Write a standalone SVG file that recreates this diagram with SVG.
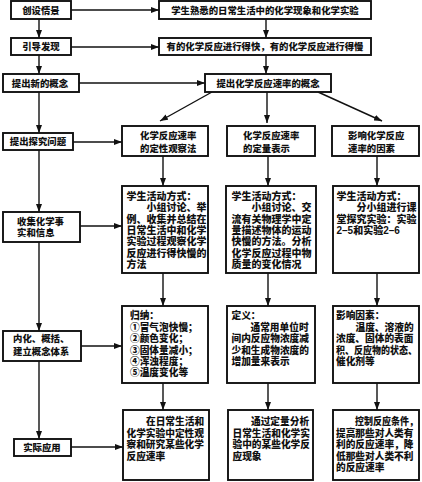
<svg xmlns="http://www.w3.org/2000/svg" width="422" height="482" viewBox="0 0 422 482">
<defs>
<style>
.box{fill:#fff;stroke:#111;stroke-width:1.9}
.t{font-family:"Liberation Sans","Noto Sans CJK SC","Noto Sans CJK JP",sans-serif;font-weight:900;fill:#111}
.s{font-size:9.4px}
.m{text-anchor:middle}
.b2{font-size:10px}
.b3{font-size:9.7px}
.c{stroke:#111;stroke-width:1.4;fill:none;marker-end:url(#ah)}
</style>
<marker id="ah" markerUnits="userSpaceOnUse" markerWidth="8" markerHeight="6" refX="8" refY="3" orient="auto">
<path d="M0,0 L8,3 L0,6 z" fill="#111"/>
</marker>
</defs>
<rect width="422" height="482" fill="#fff"/>

<g id="connectors">
<line class="c" x1="39" y1="19" x2="39" y2="38"/>
<line class="c" x1="39" y1="55" x2="39" y2="74"/>
<line class="c" x1="39" y1="92" x2="39" y2="133"/>
<line class="c" x1="39" y1="150" x2="39" y2="212"/>
<line class="c" x1="39" y1="242" x2="39" y2="331"/>
<line class="c" x1="39" y1="361" x2="39" y2="439"/>
<line class="c" x1="71" y1="10" x2="159" y2="10"/>
<line class="c" x1="71" y1="47" x2="159" y2="47"/>
<line class="c" x1="79" y1="83" x2="205" y2="83"/>
<line class="c" x1="73" y1="142" x2="122" y2="142"/>
<line class="c" x1="80" y1="226" x2="122" y2="226"/>
<line class="c" x1="81" y1="346" x2="122" y2="346"/>
<line class="c" x1="71" y1="447" x2="123" y2="447"/>
<line class="c" x1="266" y1="19" x2="266" y2="38"/>
<line class="c" x1="266" y1="55" x2="266" y2="74"/>
<line class="c" x1="212" y1="92" x2="160" y2="121"/>
<line class="c" x1="267" y1="92" x2="267" y2="123"/>
<line class="c" x1="318" y1="92" x2="382" y2="121"/>
<line class="c" x1="163" y1="156" x2="163" y2="186"/>
<line class="c" x1="268" y1="156" x2="268" y2="186"/>
<line class="c" x1="377" y1="156" x2="377" y2="186"/>
<line class="c" x1="163" y1="273" x2="163" y2="306"/>
<line class="c" x1="268" y1="273" x2="268" y2="306"/>
<line class="c" x1="377" y1="273" x2="377" y2="306"/>
<line class="c" x1="163" y1="383" x2="163" y2="410"/>
<line class="c" x1="268" y1="383" x2="268" y2="410"/>
<line class="c" x1="377" y1="383" x2="377" y2="410"/>
</g>

<g id="n-chuangshe"><rect class="box" x="11" y="1" width="60" height="18"/><text class="t s m" x="41" y="13.5">创设情景</text></g>
<g id="n-yindao"><rect class="box" x="11" y="38" width="60" height="17"/><text class="t s m" x="41" y="50.3">引导发现</text></g>
<g id="n-tichu"><rect class="box" x="3" y="74" width="76" height="18"/><text class="t s m" x="40" y="86.6">提出新的概念</text></g>
<g id="n-tanjiu"><rect class="box" x="3" y="133" width="70" height="17"/><text class="t s m" x="38" y="145.1">提出探究问题</text></g>
<g id="n-shouji"><rect class="box" x="3" y="212" width="77" height="30"/><text class="t s" x="17" y="224.6">收集化学事<tspan x="17" dy="11.2">实和信息</tspan></text></g>
<g id="n-neihua"><rect class="box" x="3" y="331" width="78" height="30"/><text class="t s" x="13" y="342.2">内化、概括、<tspan x="13" dy="13">建立概念体系</tspan></text></g>
<g id="n-shiji"><rect class="box" x="14" y="439" width="57" height="17"/><text class="t s m" x="42" y="451.1">实际应用</text></g>

<g id="n-t1"><rect class="box" x="159" y="1" width="212" height="18"/><text class="t s m" x="265" y="13.5">学生熟悉的日常生活中的化学现象和化学实验</text></g>
<g id="n-t2"><rect class="box" x="159" y="38" width="212" height="17"/><text class="t s m" x="265" y="50.3">有的化学反应进行得快，有的化学反应进行得慢</text></g>
<g id="n-t3"><rect class="box" x="205" y="74" width="126" height="18"/><text class="t s m" x="268" y="86.6">提出化学反应速率的概念</text></g>

<g id="n-r1a"><rect class="box" x="122" y="126" width="86" height="30"/><text class="t s" x="140" y="138.6">化学反应速率<tspan x="140" dy="13">的定性观察法</tspan></text></g>
<g id="n-r1b"><rect class="box" x="227" y="126" width="88" height="30"/><text class="t s" x="243" y="138.6">化学反应速率<tspan x="243" dy="13">的定量表示</tspan></text></g>
<g id="n-r1c"><rect class="box" x="332" y="126" width="87" height="30"/><text class="t s" x="348" y="138.6">影响化学反应<tspan x="348" dy="13">速率的因素</tspan></text></g>

<g id="n-r2a"><rect class="box" x="122" y="186" width="86" height="87"/>
<text class="t b2" x="126.5" y="199.8">学生活动方式：<tspan x="146.5" dy="11.4">小组讨论、举</tspan><tspan x="126.5" dy="11.4">例、收集并总结在</tspan><tspan x="126.5" dy="11.4">日常生活中和化学</tspan><tspan x="126.5" dy="11.4">实验过程观察化学</tspan><tspan x="126.5" dy="11.4">反应进行得快慢的</tspan><tspan x="126.5" dy="11.4">方法</tspan></text>
</g>
<g id="n-r2b"><rect class="box" x="226" y="186" width="90" height="87"/>
<text class="t b2" x="231.5" y="199.8">学生活动方式：<tspan x="251.5" dy="11.4">小组讨论、交</tspan><tspan x="231.5" dy="11.4">流有关物理学中定</tspan><tspan x="231.5" dy="11.4">量描述物体的运动</tspan><tspan x="231.5" dy="11.4">快慢的方法。分析</tspan><tspan x="231.5" dy="11.4">化学反应过程中物</tspan><tspan x="231.5" dy="11.4">质量的变化情况</tspan></text>
</g>
<g id="n-r2c"><rect class="box" x="333" y="186" width="86" height="87"/>
<text class="t b2" x="336.5" y="199.8">学生活动方式：<tspan x="356.5" dy="11.4">分小组进行课</tspan><tspan x="336.5" dy="11.4">堂探究实验：实验</tspan><tspan x="336.5" dy="11.4">2–5和实验2–6</tspan></text>
</g>

<g id="n-r3a"><rect class="box" x="122" y="306" width="86" height="77"/>
<text class="t b3" x="130" y="319.4">归纳：<tspan x="130" dy="11.4">①冒气泡快慢；</tspan><tspan x="130" dy="11.4">②颜色变化；</tspan><tspan x="130" dy="11.4">③固体量减小；</tspan><tspan x="130" dy="11.4">④浑浊程度；</tspan><tspan x="130" dy="11.4">⑤温度变化等</tspan></text>
</g>
<g id="n-r3b"><rect class="box" x="227" y="306" width="88" height="77"/>
<text class="t b3" x="231.5" y="319.4">定义：<tspan x="250.5" dy="11.4">通常用单位时</tspan><tspan x="231.5" dy="11.4">间内反应物浓度减</tspan><tspan x="231.5" dy="11.4">少和生成物浓度的</tspan><tspan x="231.5" dy="11.4">增加量来表示</tspan></text>
</g>
<g id="n-r3c"><rect class="box" x="333" y="306" width="86" height="77"/>
<text class="t b3" x="336" y="319.4">影响因素：<tspan x="355.5" dy="11.4">温度、溶液的</tspan><tspan x="336" dy="11.4">浓度、固体的表面</tspan><tspan x="336" dy="11.4" textLength="81" lengthAdjust="spacingAndGlyphs">积、反应物的状态、</tspan><tspan x="336" dy="11.4">催化剂等</tspan></text>
</g>

<g id="n-r4a"><rect class="box" x="123" y="410" width="86" height="70"/>
<text class="t b3" x="146" y="425.4">在日常生活和<tspan x="126.5" dy="11.4">化学实验中定性观</tspan><tspan x="126.5" dy="11.4">察和研究某些化学</tspan><tspan x="126.5" dy="11.4">反应速率</tspan></text>
</g>
<g id="n-r4b"><rect class="box" x="228" y="410" width="85" height="70"/>
<text class="t b3" x="251" y="425.4">通过定量分析<tspan x="232.5" dy="11.4">日常生活和化学实</tspan><tspan x="232.5" dy="11.4">验中的某些化学反</tspan><tspan x="232.5" dy="11.4">应现象</tspan></text>
</g>
<g id="n-r4c"><rect class="box" x="333" y="410" width="86" height="70"/>
<text class="t b3" x="355" y="425.4" textLength="63" lengthAdjust="spacingAndGlyphs">控制反应条件，</text>
<text class="t b3" x="336" y="436.8">提高那些对人类有<tspan x="336" dy="11.4">利的反应速率，降</tspan><tspan x="336" dy="11.4">低那些对人类不利</tspan><tspan x="336" dy="11.4">的反应速率</tspan></text>
</g>
</svg>
